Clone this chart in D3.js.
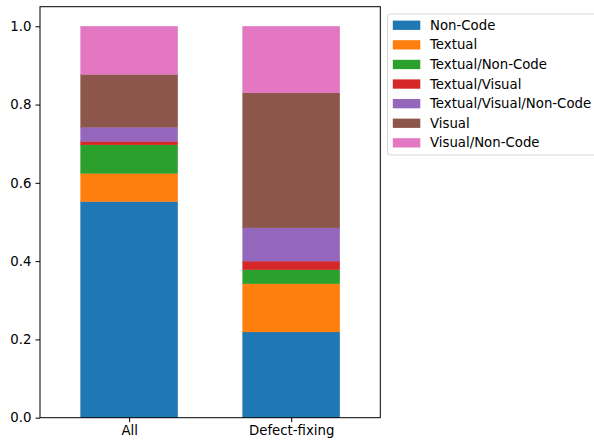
<!DOCTYPE html>
<html>
<head>
<meta charset="utf-8">
<script src="https://cdn.jsdelivr.net/npm/d3@7"></script>
<style>
  html, body { margin: 0; padding: 0; background: #fff; }
  svg { display: block; font-family: "DejaVu Sans", sans-serif; }
</style>
</head>
<body>
<svg id="chart" width="594" height="445"></svg>
<script>
// Share of each kind of change, per commit group (each column sums to 1)
const groups = ["All", "Defect-fixing"];
const kinds = ["Non-Code", "Textual", "Textual/Non-Code", "Textual/Visual",
               "Textual/Visual/Non-Code", "Visual", "Visual/Non-Code"];
const shareAll =        [0.552, 0.072, 0.073, 0.009, 0.036, 0.135, 0.123];
const shareDefectFix =  [0.219, 0.123, 0.036, 0.022, 0.085, 0.345, 0.170];
const palette = ["#1f77b4", "#ff7f0e", "#2ca02c", "#d62728", "#9467bd", "#8c564b", "#e377c2"];
const yTicks = [0.0, 0.2, 0.4, 0.6, 0.8, 1.0];

const rows = groups.map((g, i) => {
  const vals = i === 0 ? shareAll : shareDefectFix;
  const r = { group: g };
  kinds.forEach((k, j) => r[k] = vals[j]);
  return r;
});
const stacked = d3.stack().keys(kinds)(rows);

const svg = d3.select("#chart");
const plot = { left: 40, right: 380.3, top: 6.7, bottom: 417.7 };
const fontPx = "13.3px";

// Numeric x positions for the categories, bars 0.6 wide
const x = d3.scaleLinear().domain([-0.55, 1.55]).range([plot.left, plot.right]);
const y = d3.scaleLinear().domain([0, 1.05]).range([plot.bottom, plot.top]);
const barW = 0.6;
const color = d3.scaleOrdinal().domain(kinds).range(palette);

svg.append("g")
  .selectAll("g")
  .data(stacked)
  .join("g")
  .attr("fill", d => color(d.key))
  .selectAll("rect")
  .data(d => d.map((v, i) => ({ v, i })))
  .join("rect")
  .attr("x", d => x(d.i - barW / 2))
  .attr("width", d => x(barW) - x(0))
  .attr("y", d => y(d.v[1]))
  .attr("height", d => y(d.v[0]) - y(d.v[1]))
  .attr("stroke", function () { return d3.select(this.parentNode).attr("fill"); })
  .attr("stroke-width", 0.3);

// Axes
const yAxis = d3.axisLeft(y).tickValues(yTicks).tickFormat(d3.format(".1f"))
  .tickSize(4.5).tickPadding(4);
const xAxis = d3.axisBottom(x).tickValues(groups.map((g, i) => i))
  .tickFormat(i => groups[i]).tickSize(4.5).tickPadding(3.5);

const gy = svg.append("g").attr("transform", `translate(${plot.left},0)`).call(yAxis);
const gx = svg.append("g").attr("transform", `translate(0,${plot.bottom})`).call(xAxis);
[gy, gx].forEach(g => {
  g.select(".domain").remove();
  g.selectAll(".tick line").attr("stroke", "#000").attr("stroke-width", 1);
  g.selectAll(".tick text").attr("fill", "#000").style("font-size", fontPx)
    .style("font-family", "DejaVu Sans, sans-serif");
});

// Frame around the plot area
svg.append("rect")
  .attr("x", plot.left).attr("y", plot.top)
  .attr("width", plot.right - plot.left).attr("height", plot.bottom - plot.top)
  .attr("fill", "none").attr("stroke", "#000").attr("stroke-width", 1);

// Legend
const leg = svg.append("g").attr("transform", "translate(387.5,14)");
leg.append("rect")
  .attr("x", 0).attr("y", 0).attr("width", 215).attr("height", 141)
  .attr("rx", 3).attr("fill", "#fff").attr("fill-opacity", 0.8)
  .attr("stroke", "#d6d6d6").attr("stroke-width", 1);
const item = leg.selectAll("g.item")
  .data(kinds)
  .join("g")
  .attr("class", "item")
  .attr("transform", (d, i) => `translate(0,${11.2 + i * 19.6})`);
item.append("rect")
  .attr("x", 5.3).attr("y", -4.6).attr("width", 27.5).attr("height", 9.3)
  .attr("fill", d => color(d));
item.append("text")
  .attr("x", 42.5).attr("y", 0).attr("dy", "0.35em")
  .style("font-size", fontPx).attr("fill", "#000")
  .text(d => d);
</script>
</body>
</html>
